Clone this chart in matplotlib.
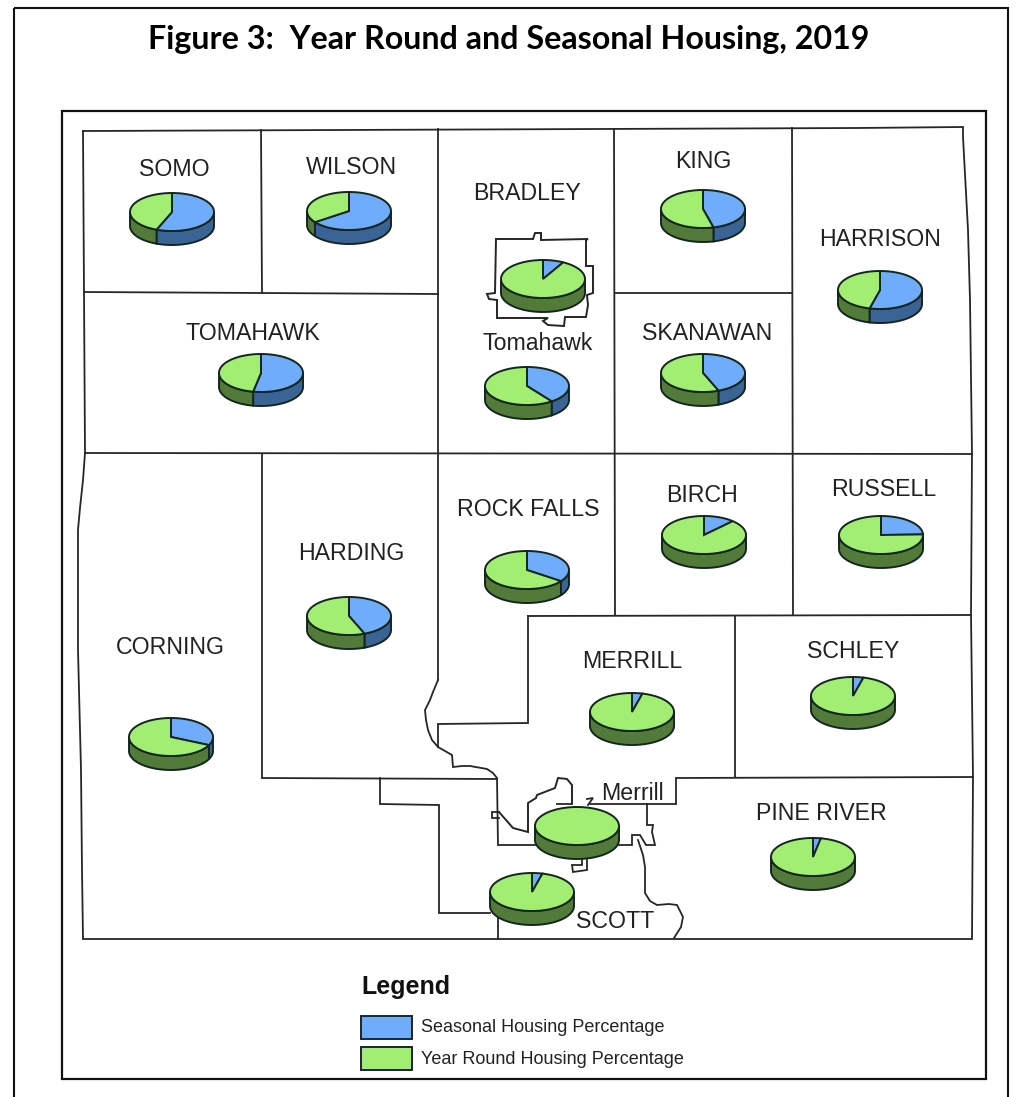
"""Year round and seasonal housing map, pies per town (3D look drawn by hand)."""
import numpy as np
import matplotlib
matplotlib.use('Agg')
import matplotlib.pyplot as plt
from matplotlib.patches import Polygon, Rectangle

# seasonal share per area, rest is year round
towns = ['SOMO', 'WILSON', 'KING', 'Tomahawk city', 'HARRISON', 'TOMAHAWK', 'BRADLEY', 'SKANAWAN',
         'ROCK FALLS', 'BIRCH', 'RUSSELL', 'HARDING', 'CORNING', 'MERRILL', 'SCHLEY',
         'PINE RIVER', 'Merrill city', 'SCOTT']
seasonal_pct = [56, 65, 46, 8, 54, 53, 40, 44, 35, 12, 24.5, 44, 32, 4, 4, 3, 0, 4]

# map positions of the pies (picture pixels, y down)
pie_x = [172, 349, 703, 543, 880, 261, 527, 703, 527, 704, 881, 349, 171, 632, 853, 813, 577, 532]
pie_y = [212, 211, 209, 279, 290, 373, 386, 373, 570, 535, 535, 616, 737, 712, 696, 857, 826, 892]

town_labels = ['SOMO', 'WILSON', 'BRADLEY', 'KING', 'HARRISON', 'TOMAHAWK', 'SKANAWAN',
               'ROCK FALLS', 'BIRCH', 'RUSSELL', 'HARDING', 'CORNING', 'MERRILL', 'SCHLEY',
               'PINE RIVER', 'SCOTT', 'Tomahawk', 'Merrill']
label_x = [174, 351, 527, 703, 880, 253, 707, 528, 702, 884, 351, 170, 632, 853, 821, 615, 538, 632]
label_y = [170, 168, 193, 162, 239, 333, 333, 509, 496, 489, 554, 648, 661, 652, 814, 922, 343, 794]

legend_names = ['Seasonal Housing Percentage', 'Year Round Housing Percentage']

outline = [(83, 131), (857, 128), (963, 127), (963, 137), (968, 230), (970, 300), (972, 454), (971, 615),
           (973, 777), (972, 939), (83, 939), (82, 870), (81, 770), (78, 650), (78, 530), (80, 508), (83, 480),
           (85, 453), (84, 292), (83, 131)]
town_lines = [
    [(261, 130), (262, 293)],
    [(84, 292), (438, 294)],
    [(85, 453), (972, 454)],
    [(438, 129), (438, 680)],
    [(614, 129), (615, 615)],
    [(792, 128), (793, 615)],
    [(615, 293), (792, 293)],
    [(262, 454), (262, 778), (497, 779), (498, 845), (535, 845)],
    [(528, 616), (971, 615)],
    [(528, 616), (528, 723), (438, 724), (438, 747)],
    [(735, 616), (735, 777)],
    [(380, 778), (380, 804), (439, 805), (439, 913), (490, 913)],
    [(498, 918), (498, 939)],
    [(590, 804), (676, 804), (676, 778), (973, 777)],
    [(619, 845), (632, 845), (632, 835), (640, 835), (646, 845), (655, 845), (652, 832), (653, 825),
     (647, 825), (647, 804)],
]
river = [(438, 680), (433, 692), (430, 700), (425, 710), (426, 720), (428, 730), (432, 740), (438, 747),
         (445, 751), (452, 755), (453, 767), (462, 766), (470, 766), (487, 769), (493, 773), (497, 778)]
river2 = [(638, 840), (643, 855), (645, 867), (645, 880), (645, 893), (650, 901), (657, 905), (669, 904),
          (677, 905), (683, 917), (681, 927), (674, 938)]
tomahawk_city = [(496, 239), (533, 239), (535, 233), (541, 233), (541, 240), (588, 239), (586, 240), (586, 266),
                 (593, 266), (593, 293), (587, 295), (588, 305), (586, 317), (565, 317), (564, 326), (548, 325),
                 (543, 321), (548, 318), (497, 318), (497, 300), (489, 299), (487, 294), (495, 293), (496, 239)]
merrill_city = [(499, 812), (506, 820), (513, 828), (528, 832), (528, 803), (536, 798), (537, 795), (555, 788),
                (558, 778), (567, 779), (572, 785), (572, 803)]
merrill_bits = [
    [(499, 812), (492, 812), (492, 818), (499, 818)],
    [(557, 804), (572, 804)],
    [(587, 799), (593, 798), (588, 805)],
    [(582, 858), (582, 865), (572, 865), (573, 872), (587, 870), (587, 860)],
]

BLUE, BLUE_DK = '#6FADFB', '#3A6396'
GREEN, GREEN_DK = '#A2EE72', '#527A38'
EDGE = '#14261E'
INK = '#262626'
SANS = 'Liberation Sans'

fig = plt.figure(figsize=(10.18, 10.97), dpi=100)
ax = fig.add_axes([0, 0, 1, 1])
ax.set_xlim(0, 1018)
ax.set_ylim(1097, 0)
ax.axis('off')

# page border and map frame
ax.add_patch(Rectangle((14, 8), 994, 1095, fill=False, ec='#111111', lw=1.5))
ax.add_patch(Rectangle((62, 111), 924, 968, fill=False, ec='#111111', lw=1.6))


def draw_line(pts, lw=1.3):
    xs, ys = zip(*pts)
    ax.plot(xs, ys, color=INK, lw=lw, solid_joinstyle='miter', zorder=2)


draw_line(outline)
for pts in town_lines + merrill_bits:
    draw_line(pts)
draw_line(river)
draw_line(river2)
draw_line(tomahawk_city, lw=1.4)
draw_line(merrill_city, lw=1.4)


def rim(cx, cy, t):
    return cx + 42 * np.sin(t), cy - 19 * np.cos(t)


def draw_pie(cx, cy, pct, depth=14):
    end = 2 * np.pi * pct / 100
    # side band, only the front half shows
    for a, b, col in [(np.pi / 2, min(end, 1.5 * np.pi), BLUE_DK), (max(end, np.pi / 2), 1.5 * np.pi, GREEN_DK)]:
        if b <= a:
            continue
        t = np.linspace(a, b, 40)
        x, y = rim(cx, cy, t)
        pts = np.r_[np.c_[x, y], np.c_[x[::-1], y[::-1] + depth]]
        ax.add_patch(Polygon(pts, fc=col, ec=EDGE, lw=1.4, zorder=3))
    # top face
    for a, b, col in [(0, end, BLUE), (end, 2 * np.pi, GREEN)]:
        if b <= a:
            continue
        t = np.linspace(a, b, 100)
        x, y = rim(cx, cy, t)
        pts = np.r_[[(cx, cy)], np.c_[x, y]] if 0 < pct else np.c_[x, y]
        ax.add_patch(Polygon(pts, fc=col, ec=EDGE, lw=1.4, zorder=4))


for cx, cy, pct in zip(pie_x, pie_y, seasonal_pct):
    draw_pie(cx, cy, pct)

for name, x, y in zip(town_labels, label_x, label_y):
    ax.text(x, y, name, ha='center', va='center', fontsize=16.7, family=SANS, color='#222222', zorder=5)

ax.text(509, 39, 'Figure 3:  Year Round and Seasonal Housing, 2019', ha='center', va='center',
        fontsize=23.2, fontweight='bold', family='Lato', color='black')

# legend
ax.text(361, 987, 'Legend', ha='left', va='center', fontsize=18, fontweight='bold', family=SANS, color='#111111')
for y, col, name in zip([1028, 1059], [BLUE, GREEN], legend_names):
    ax.add_patch(Rectangle((361, y - 12), 51, 23, fc=col, ec='#1a2433', lw=1.4))
    ax.text(421, y, name, ha='left', va='center', fontsize=13, family=SANS, color='#222222')

fig.savefig('out.png', dpi=100)
